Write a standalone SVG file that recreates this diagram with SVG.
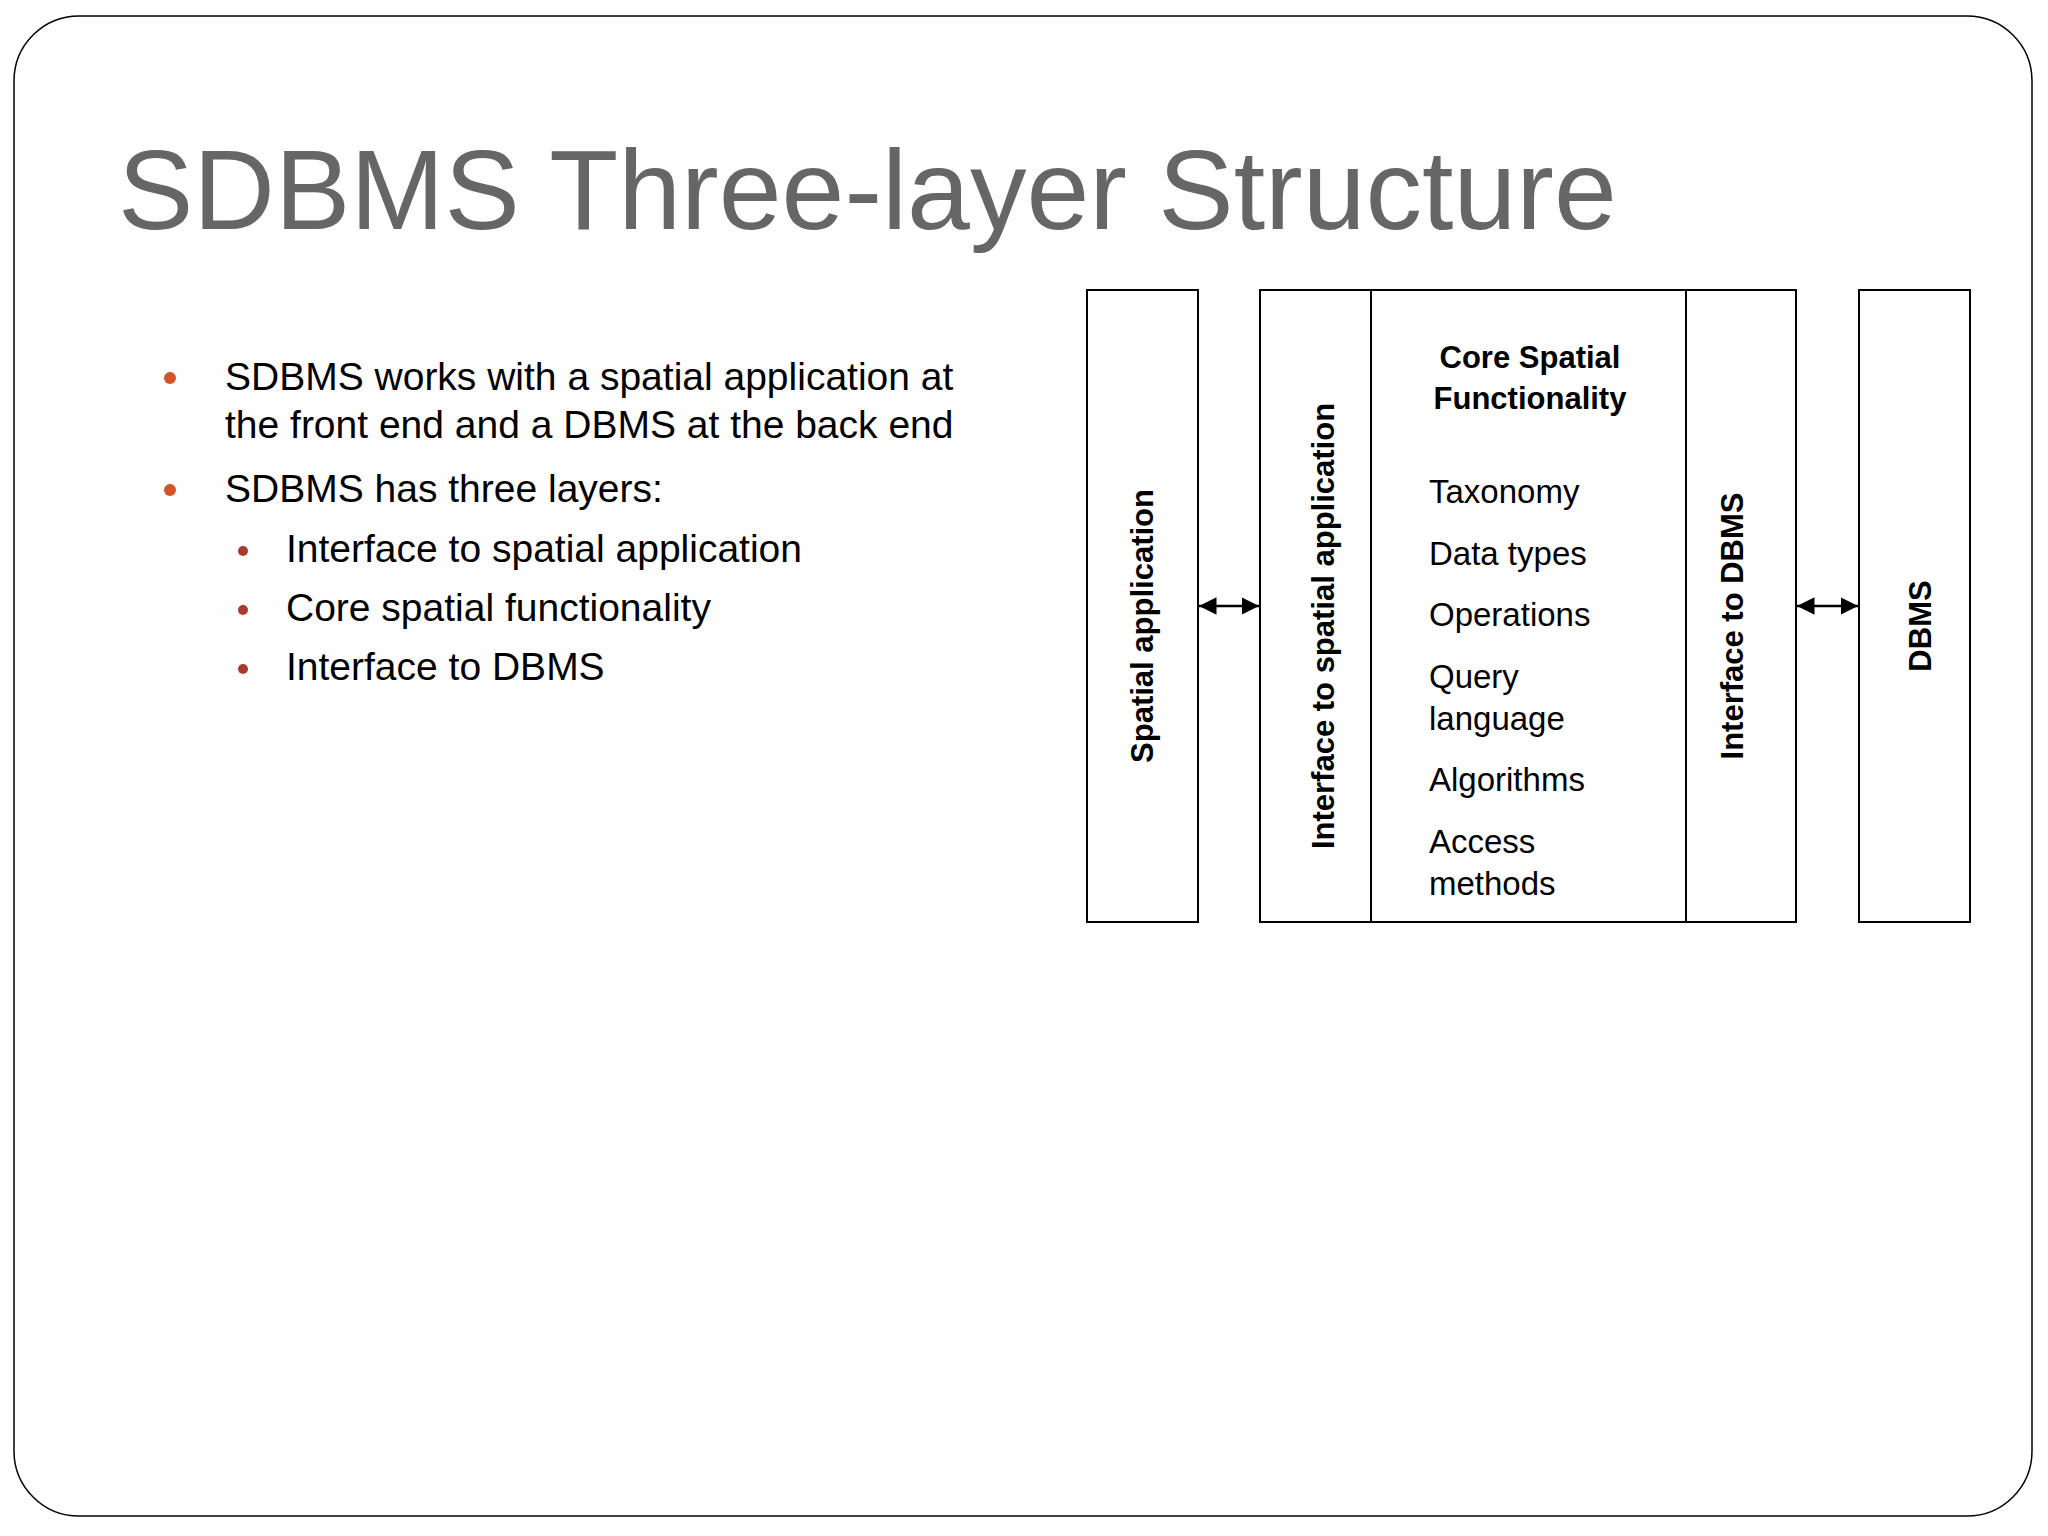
<svg xmlns="http://www.w3.org/2000/svg" width="2048" height="1536" viewBox="0 0 2048 1536">
<style>
.t{font-family:"Liberation Sans",Arial,sans-serif;fill:#000}
.b{font-weight:bold;font-size:31px}
.box{fill:#fff;stroke:#000;stroke-width:2}
.i{font-size:33px}
.bl{font-size:39px}
</style>
<defs>
<marker id="a" viewBox="0 0 10 10" refX="10" refY="5" markerWidth="7" markerHeight="7" orient="auto-start-reverse"><path d="M0,0L10,5L0,10z" fill="#000"/></marker>
</defs>
<rect x="0" y="0" width="2048" height="1536" fill="#fff"/>
<rect x="14" y="16" width="2018" height="1500" rx="65" fill="#fefefe" stroke="#000" stroke-width="1.5"/>
<text x="118" y="229" font-family="Liberation Sans,Arial,sans-serif" font-size="113" fill="#666">SDBMS Three-layer Structure</text>
<g id="bullets">
<circle cx="170" cy="378" r="6" fill="#d2542a"/>
<text class="t bl" x="225" y="390">SDBMS works with a spatial application at</text>
<text class="t bl" x="225" y="438">the front end and a DBMS at the back end</text>
<circle cx="170" cy="490" r="6" fill="#d2542a"/>
<text class="t bl" x="225" y="502">SDBMS has three layers:</text>
<circle cx="243" cy="551" r="5" fill="#a83a2e"/>
<text class="t bl" x="286" y="562">Interface to spatial application</text>
<circle cx="243" cy="610" r="5" fill="#a83a2e"/>
<text class="t bl" x="286" y="621">Core spatial functionality</text>
<circle cx="243" cy="669" r="5" fill="#a83a2e"/>
<text class="t bl" x="286" y="680">Interface to DBMS</text>
</g>
<g id="spatial-app">
<rect class="box" x="1087" y="290" width="111" height="632"/>
<text class="t b" transform="translate(1153,626) rotate(-90)" text-anchor="middle">Spatial application</text>
</g>
<g id="sdbms">
<rect class="box" x="1260" y="290" width="536" height="632"/>
<line x1="1371" y1="290" x2="1371" y2="922" stroke="#000" stroke-width="2"/>
<line x1="1686" y1="290" x2="1686" y2="922" stroke="#000" stroke-width="2"/>
</g>
<g id="iface-app"><text class="t b" transform="translate(1334,626) rotate(-90)" text-anchor="middle">Interface to spatial application</text></g>
<g id="core">
<text class="t b" x="1530" y="368" text-anchor="middle" font-size="33">Core Spatial</text>
<text class="t b" x="1530" y="409" text-anchor="middle" font-size="33">Functionality</text>
<text class="t i" x="1429" y="503">Taxonomy</text>
<text class="t i" x="1429" y="565">Data types</text>
<text class="t i" x="1429" y="626">Operations</text>
<text class="t i" x="1429" y="688">Query</text>
<text class="t i" x="1429" y="730">language</text>
<text class="t i" x="1429" y="791">Algorithms</text>
<text class="t i" x="1429" y="853">Access</text>
<text class="t i" x="1429" y="895">methods</text>
</g>
<g id="iface-dbms"><text class="t b" transform="translate(1743,626) rotate(-90)" text-anchor="middle">Interface to DBMS</text></g>
<g id="dbms">
<rect class="box" x="1859" y="290" width="111" height="632"/>
<text class="t b" transform="translate(1931,626) rotate(-90)" text-anchor="middle">DBMS</text>
</g>
<g id="connectors" stroke="#000" stroke-width="2.5">
<line x1="1199" y1="606" x2="1259" y2="606" marker-start="url(#a)" marker-end="url(#a)"/>
<line x1="1797" y1="606" x2="1858" y2="606" marker-start="url(#a)" marker-end="url(#a)"/>
</g>
</svg>
